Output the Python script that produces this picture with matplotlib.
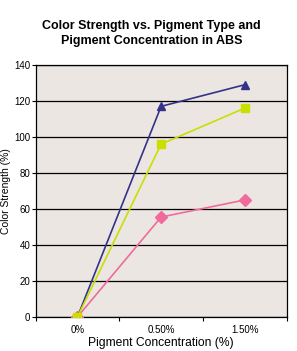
import matplotlib
matplotlib.use("Agg")
import matplotlib.pyplot as plt
import numpy as np

plt.rcParams["font.family"] = ["Liberation Sans", "DejaVu Sans"]

categories = ["0%", "0.50%", "1.50%"]
series_blue = [0, 117, 129]
series_green = [0, 96, 116]
series_pink = [0, 55.5, 65]

fig = plt.figure(figsize=(2.97, 3.51), dpi=100)
ax = fig.add_axes([0.120, 0.097, 0.845, 0.718])
ax.set_facecolor("#ece6e3")

x = np.arange(len(categories))
ax.plot(x, series_pink, color="#f06a9b", lw=1.2, marker="D", ms=6, zorder=3)
ax.plot(x, series_blue, color="#333388", lw=1.2, marker="^", ms=6, zorder=4)
ax.plot(x, series_green, color="#c8df00", lw=1.2, marker="s", ms=6, zorder=5)

ax.set_xlim(-0.5, 2.5)
ax.set_ylim(0, 140)
ax.set_yticks(np.arange(0, 141, 20))
ax.set_xticks(x)
ax.set_xticklabels(categories)
ax.set_xticks([-0.5, 0.5, 1.5, 2.5], minor=True)
ax.tick_params(axis="x", which="major", length=0, labelsize=7, pad=6)
ax.tick_params(axis="x", which="minor", length=3, width=0.8, direction="out")
ax.tick_params(axis="y", labelsize=7, length=3, width=0.8, pad=1)
ax.yaxis.grid(True, color="black", lw=0.9)
ax.set_axisbelow(True)
for s in ax.spines.values():
    s.set_linewidth(0.9)

ax.set_ylabel("Color Strength (%)", fontsize=7.5, labelpad=2)
ax.set_xlabel("Pigment Concentration (%)", fontsize=8.7, labelpad=1)
fig.text(0.51, 1 - 20 / 351, "Color Strength vs. Pigment Type and\nPigment Concentration in ABS",
         ha="center", va="top", fontsize=9, fontweight="bold", linespacing=1.3)

fig.savefig("out.png", dpi=100)
